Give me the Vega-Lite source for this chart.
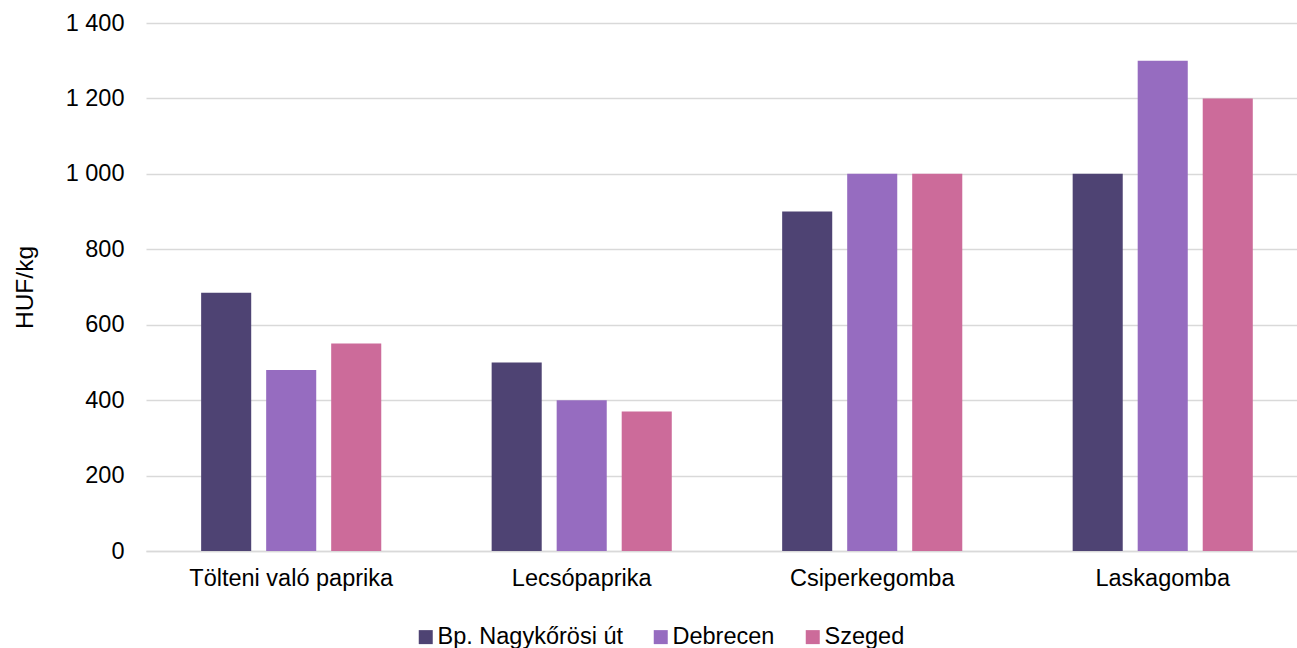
{
  "$schema": "https://vega.github.io/schema/vega-lite/v6.json",
  "autosize": {"type": "none"},
  "padding": {"left": 146, "top": 23, "right": 0, "bottom": 97},
  "width": 1151,
  "height": 528,
  "background": "white",
  "config": {
    "font": "Liberation Sans",
    "view": {"stroke": null}
  },
  "data": {
    "values": [
      {"termek": "Tölteni való paprika", "piac": "Bp. Nagykőrösi út", "ar": 685},
      {"termek": "Tölteni való paprika", "piac": "Debrecen", "ar": 480},
      {"termek": "Tölteni való paprika", "piac": "Szeged", "ar": 550},
      {"termek": "Lecsópaprika", "piac": "Bp. Nagykőrösi út", "ar": 500},
      {"termek": "Lecsópaprika", "piac": "Debrecen", "ar": 400},
      {"termek": "Lecsópaprika", "piac": "Szeged", "ar": 370},
      {"termek": "Csiperkegomba", "piac": "Bp. Nagykőrösi út", "ar": 900},
      {"termek": "Csiperkegomba", "piac": "Debrecen", "ar": 1000},
      {"termek": "Csiperkegomba", "piac": "Szeged", "ar": 1000},
      {"termek": "Laskagomba", "piac": "Bp. Nagykőrösi út", "ar": 1000},
      {"termek": "Laskagomba", "piac": "Debrecen", "ar": 1300},
      {"termek": "Laskagomba", "piac": "Szeged", "ar": 1200}
    ]
  },
  "mark": {"type": "bar"},
  "encoding": {
    "x": {
      "field": "termek",
      "type": "nominal",
      "sort": ["Tölteni való paprika", "Lecsópaprika", "Csiperkegomba", "Laskagomba"],
      "title": null,
      "scale": {"paddingInner": 0.38, "paddingOuter": 0.171, "align": 0.555},
      "axis": {
        "labelAngle": 0,
        "labelFontSize": 23.5,
        "labelColor": "#000000",
        "labelPadding": 15,
        "labelLimit": 0,
        "ticks": false,
        "domain": true,
        "domainColor": "#d9d9d9",
        "domainWidth": 1.5
      }
    },
    "xOffset": {
      "field": "piac",
      "type": "nominal",
      "sort": ["Bp. Nagykőrösi út", "Debrecen", "Szeged"],
      "scale": {"paddingInner": 0.23, "paddingOuter": 0}
    },
    "y": {
      "field": "ar",
      "type": "quantitative",
      "title": "HUF/kg",
      "scale": {"domain": [0, 1400]},
      "axis": {
        "values": [0, 200, 400, 600, 800, 1000, 1200, 1400],
        "labelExpr": "replace(format(datum.value, ','), ',', ' ')",
        "labelFontSize": 23.5,
        "labelColor": "#000000",
        "labelPadding": 22,
        "ticks": false,
        "domain": false,
        "gridColor": "#d9d9d9",
        "gridWidth": 1.5,
        "titleFontSize": 24.5,
        "titleFontWeight": "normal",
        "titleColor": "#000000",
        "titlePadding": 28
      }
    },
    "color": {
      "field": "piac",
      "type": "nominal",
      "sort": ["Bp. Nagykőrösi út", "Debrecen", "Szeged"],
      "scale": {
        "domain": ["Bp. Nagykőrösi út", "Debrecen", "Szeged"],
        "range": ["#4e4373", "#966cc0", "#cc6b9a"]
      },
      "legend": {
        "title": null,
        "orient": "none",
        "direction": "horizontal",
        "legendX": 268,
        "legendY": 602,
        "padding": 0,
        "symbolType": "square",
        "symbolSize": 196,
        "symbolStrokeWidth": 0,
        "labelFontSize": 23.5,
        "labelColor": "#000000",
        "labelOffset": 0,
        "labelLimit": 0,
        "columnPadding": 26
      }
    }
  }
}
